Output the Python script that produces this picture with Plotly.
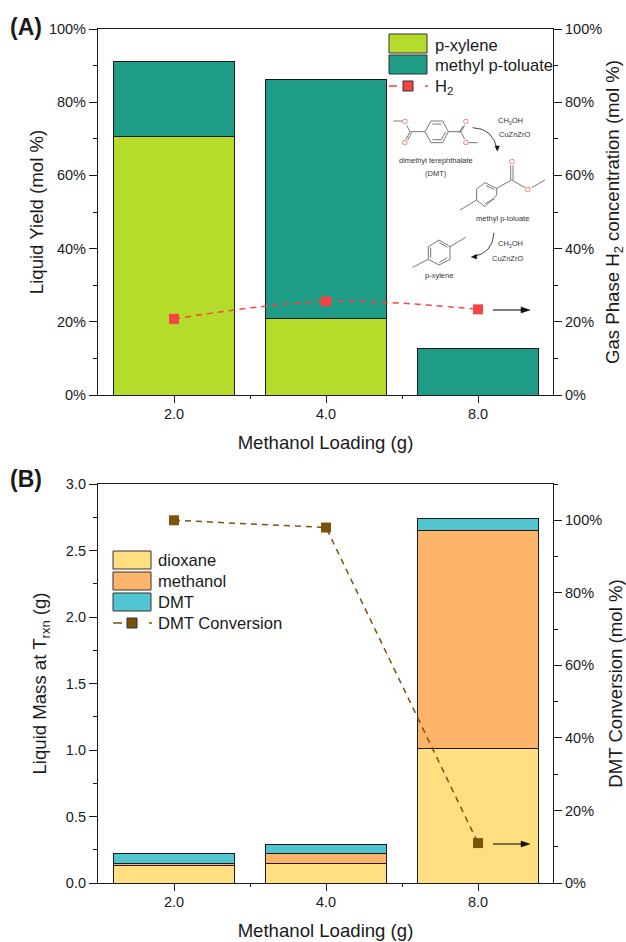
import plotly.graph_objects as go

W, H = 626, 942
L, R, T, B = 98, 553, 29, 883
loadings = ["2.0", "4.0", "8.0"]
positions = [0, 1, 2]

pxylene = [70.7, 21.0, 0.0]
toluate = [20.3, 65.2, 12.6]
h2_conc = [20.8, 25.6, 23.4]

dioxane = [0.135, 0.15, 1.01]
methanol = [0.015, 0.07, 1.64]
dmt = [0.07, 0.07, 0.09]
conversion = [100, 98, 11]

C_XYL, C_TOL, C_RED = "#B5DC2A", "#1F9C85", "#F44444"
C_DIO, C_MET, C_DMT, C_BRN = "#FFDF80", "#FFB46B", "#52C5D0", "#7A5208"
INK = "#1a1a1a"
FONT = "Liberation Sans"

fx = lambda x: (x - L) / (R - L)
fy = lambda y: (B - y) / (B - T)

fig = go.Figure()


def bar(name, vals, color, xa, ya):
    fig.add_trace(go.Bar(x=positions, y=vals, name=name, width=0.8, xaxis=xa, yaxis=ya,
                         marker=dict(color=color, line=dict(color=INK, width=1)),
                         showlegend=False))


def line(name, vals, color, xa, ya, shape):
    fig.add_trace(go.Scatter(x=positions, y=vals, name=name, xaxis=xa, yaxis=ya,
                             mode="lines+markers", showlegend=False,
                             line=dict(color=color, width=1.5, dash="6px,5px", shape=shape),
                             marker=dict(symbol="square", size=10, color=color)))


bar("p-xylene", pxylene, C_XYL, "x", "y")
bar("methyl p-toluate", toluate, C_TOL, "x", "y")
line("H2", h2_conc, C_RED, "x", "y2", "spline")
bar("dioxane", dioxane, C_DIO, "x2", "y3")
bar("methanol", methanol, C_MET, "x2", "y3")
bar("DMT", dmt, C_DMT, "x2", "y3")
line("DMT Conversion", conversion, C_BRN, "x2", "y4", "linear")

tickfont = dict(family=FONT, size=14.5, color=INK)
titlefont = dict(family=FONT, size=18.6, color=INK)


def xaxis(domain_anchor):
    return dict(domain=[0, 1], anchor=domain_anchor, range=[-0.5, 2.493], automargin=False,
                tickmode="array", tickvals=positions, ticktext=loadings,
                ticks="outside", ticklen=7, tickcolor=INK, tickwidth=1, ticklabelstandoff=-2,
                minor=dict(tickmode="array", tickvals=[0.5, 1.5], ticks="outside",
                           ticklen=3, tickcolor=INK),
                showline=True, linecolor=INK, linewidth=1.2, mirror=True, showgrid=False,
                zeroline=False, tickfont=tickfont,
                title=dict(text="Methanol Loading (g)", font=titlefont, standoff=15))


def yaxis(dom, rng, major, minor, title, side="left", suffix="", over=None, fmt=None,
          xanchor="x", standoff=10):
    d = dict(domain=dom, range=rng, dtick=major, tick0=0, ticks="outside", ticklen=8,
             tickcolor=INK, tickwidth=1, anchor=xanchor, side=side, automargin=False,
             minor=dict(dtick=minor, tick0=0, ticks="outside", ticklen=4, tickcolor=INK),
             showline=True, linecolor=INK, linewidth=1.2, showgrid=False, zeroline=False,
             tickfont=tickfont, ticksuffix=suffix,
             title=dict(text=title, font=titlefont, standoff=standoff))
    if over:
        d["overlaying"] = over
    if fmt:
        d["tickformat"] = fmt
    return d


dom_a = [fy(395), fy(T)]
dom_b = [fy(B), fy(484)]

fig.update_layout(
    width=W, height=H, margin=dict(l=L, r=W - R, t=T, b=H - B), autosize=False,
    paper_bgcolor="white", plot_bgcolor="white", barmode="stack", showlegend=False,
    font=dict(family=FONT, color=INK),
    xaxis=xaxis("y"), xaxis2=xaxis("y3"),
    yaxis=yaxis(dom_a, [0, 100], 20, 10, "Liquid Yield (mol %)", suffix="%", standoff=0),
    yaxis2=yaxis(dom_a, [0, 100], 20, 10, "Gas Phase H<sub>2</sub> concentration (mol %)",
                 side="right", suffix="%", over="y", standoff=7),
    yaxis3=yaxis(dom_b, [0, 3], 0.5, 0.25, "Liquid Mass at T<sub>rxn</sub> (g)",
                 fmt=".1f", xanchor="x2", standoff=14),
    yaxis4=yaxis(dom_b, [0, 110], 20, 10, "DMT Conversion (mol %)", side="right",
                 suffix="%", over="y3", xanchor="x2", standoff=7),
)

shapes, notes = [], []


def text(x, y, s, size=16.6, anchor="left", color=INK, bold=False):
    notes.append(dict(xref="paper", yref="paper", x=fx(x), y=fy(y), text=f"<b>{s}</b>" if bold else s,
                      showarrow=False, xanchor=anchor, yanchor="middle",
                      font=dict(family=FONT, size=size, color=color)))


def swatch(x0, y0, x1, y1, color):
    shapes.append(dict(type="rect", xref="paper", yref="paper", x0=fx(x0), x1=fx(x1),
                       y0=fy(y0), y1=fy(y1), fillcolor=color, line=dict(color="#333", width=1)))


def seg(x0, y0, x1, y1, color="#555", width=0.8):
    shapes.append(dict(type="line", xref="paper", yref="paper", x0=fx(x0), x1=fx(x1),
                       y0=fy(y0), y1=fy(y1), line=dict(color=color, width=width)))


def head(pts, color="#111"):
    path = "M " + " L ".join(f"{fx(a)} {fy(b)}" for a, b in pts) + " Z"
    shapes.append(dict(type="path", xref="paper", yref="paper", path=path, fillcolor=color,
                       line=dict(color=color, width=0.5)))


text(8, 27, "(A)", 23, bold=True)
text(8, 479, "(B)", 23, bold=True)

# legend, panel A
swatch(389, 34, 427, 53, C_XYL)
swatch(389, 55, 427, 74, C_TOL)
text(433, 45, "p-xylene")
text(433, 65, "methyl p-toluate")
seg(389, 86, 397, 86, C_RED, 1.5)
seg(425, 86, 428, 86, C_RED, 1.5)
swatch(403, 81, 413, 91, C_RED)
text(433, 87, "H<sub>2</sub>")

# legend, panel B
swatch(113, 551, 151, 569, C_DIO)
swatch(113, 572, 151, 590, C_MET)
swatch(113, 593, 151, 611, C_DMT)
text(156, 560, "dioxane")
text(156, 581, "methanol")
text(156, 602, "DMT")
text(156, 623, "DMT Conversion")
seg(113, 623, 122, 623, C_BRN, 1.5)
seg(149, 623, 152, 623, C_BRN, 1.5)
swatch(127, 618, 137, 628, C_BRN)

# arrows pointing at the right-hand axis
for ay in (310, 844):
    seg(493, ay, 522, ay, "#111", 1.1)
    head([(521, ay - 3), (530, ay), (521, ay + 3)])


# reaction scheme, traced in crop units of the zoomed region
def zx(v):
    return 360 + v / 3


def zy(v):
    return 20 + v / 3


def bonds(pts, color="#555", closed=False):
    seq = pts + [pts[0]] if closed else pts
    for (a, b), (c, d) in zip(seq, seq[1:]):
        seg(zx(a), zy(b), zx(c), zy(d), color)


bonds([(195, 335), (213, 303), (248, 303), (265, 335), (248, 368), (213, 368)], closed=True)
bonds([(217, 312), (244, 312)])
bonds([(217, 359), (244, 359)])
bonds([(257, 335), (244, 359)])
bonds([(195, 335), (150, 335)])
bonds([(100, 303), (127, 303)])
bonds([(150, 335), (140, 316)])
bonds([(150, 335), (138, 358)])
bonds([(155, 338), (143, 360)])
bonds([(265, 335), (303, 335)])
bonds([(303, 335), (314, 316)])
bonds([(303, 335), (314, 358)])
bonds([(298, 338), (309, 318)])
bonds([(326, 368), (353, 368)])
bonds([(350, 507), (375, 488), (410, 505), (410, 525), (375, 560), (350, 540)], closed=True)
bonds([(378, 497), (403, 508)])
bonds([(375, 551), (403, 537)])
bonds([(350, 540), (300, 570)])
bonds([(410, 505), (455, 480)])
bonds([(452, 480), (452, 436)])
bonds([(459, 480), (459, 436)])
bonds([(455, 480), (496, 503)])
bonds([(515, 503), (555, 480)])
bonds([(205, 680), (237, 660), (270, 680), (270, 718), (237, 735), (205, 718)], closed=True)
bonds([(212, 683), (212, 713)])
bonds([(238, 668), (262, 682)])
bonds([(238, 727), (262, 713)])
bonds([(270, 680), (317, 652)])
bonds([(205, 718), (158, 742)])

for x, y in [(136, 305), (136, 368), (317, 305), (317, 368), (457, 425), (505, 507)]:
    text(zx(x), zy(y), "O", 7.5, "center", "#F05050")
for x, y, s in [(227, 421, "dimethyl terephthalate"), (227, 462, "(DMT)"),
                (452, 304, "CH<sub>3</sub>OH"), (464, 343, "CuZnZrO"),
                (427, 596, "methyl p-toluate"), (452, 672, "CH<sub>3</sub>OH"),
                (441, 714, "CuZnZrO"), (238, 767, "p-xylene")]:
    text(zx(x), zy(y), s, 7.5, "center", "#333")

for (a, b), (c, d), (e, f) in [((338, 323), (400, 325), (412, 390)), ((402, 638), (398, 700), (340, 710))]:
    shapes.append(dict(type="path", xref="paper", yref="paper",
                       path=f"M {fx(zx(a))} {fy(zy(b))} Q {fx(zx(c))} {fy(zy(d))} {fx(zx(e))} {fy(zy(f))}",
                       line=dict(color="#333", width=0.9)))
head([(zx(405), zy(378)), (zx(412), zy(393)), (zx(418), zy(378))])
head([(zx(350), zy(703)), (zx(334), zy(711)), (zx(350), zy(717))])

fig.update_layout(shapes=shapes, annotations=notes)
fig.write_html("out.html", config=dict(displayModeBar=False),
               post_script="document.body.style.margin='0';")
